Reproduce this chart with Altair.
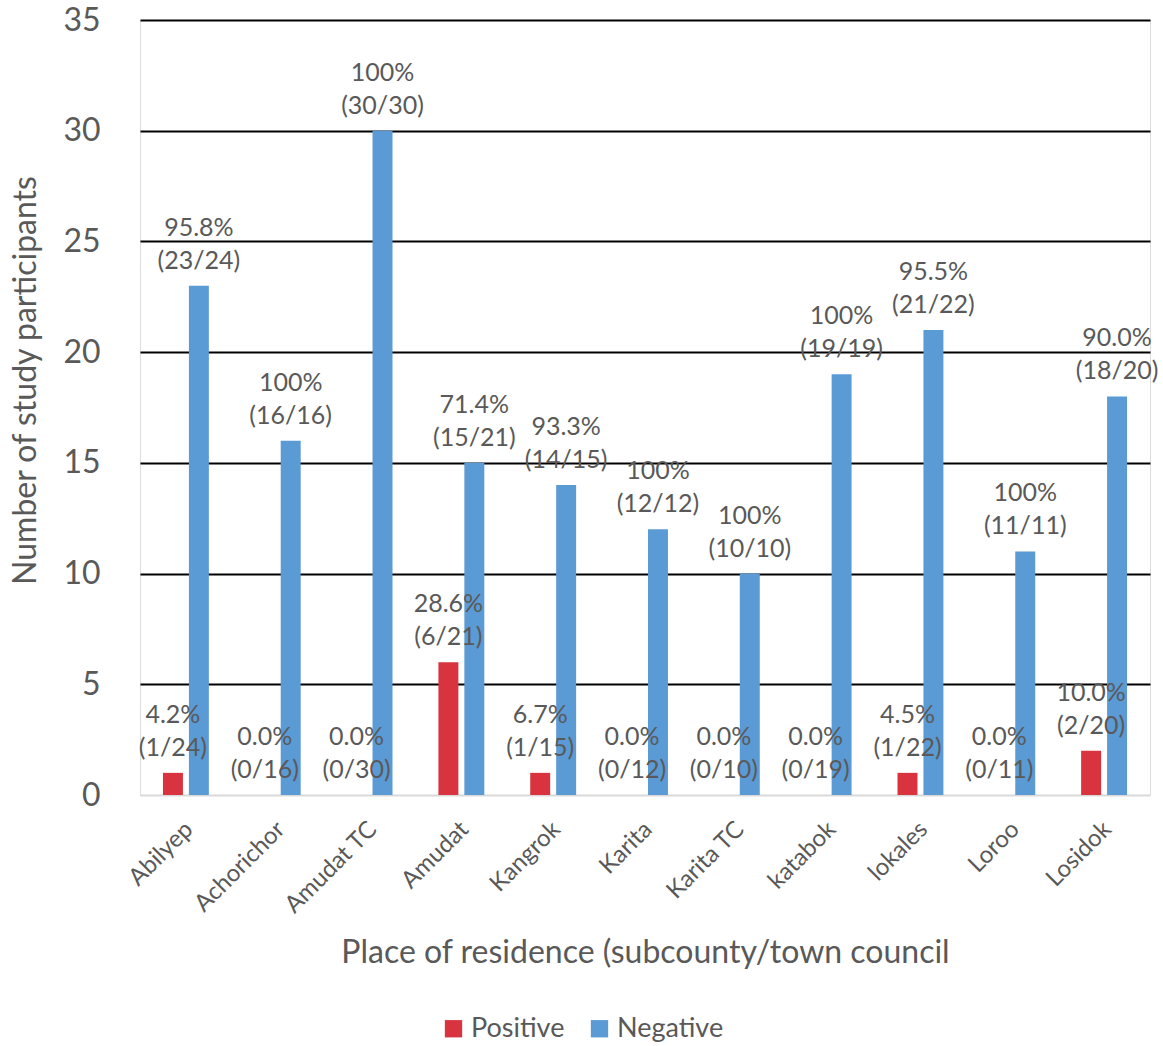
import altair as alt
import pandas as pd

# Participants by place of residence, split by test result
places = ["Abilyep", "Achorichor", "Amudat TC", "Amudat", "Kangrok", "Karita",
          "Karita TC", "katabok", "lokales", "Loroo", "Losidok"]
positive = [1, 0, 0, 6, 1, 0, 0, 0, 1, 0, 2]
negative = [23, 16, 30, 15, 14, 12, 10, 19, 21, 11, 18]
series = ["Positive", "Negative"]
colors = ["#d9333f", "#5b9bd5"]

FONT = "Lato"
GREY = "#595959"


def pct_label(n, total):
    pct = 100.0 * n / total
    head = "100%" if n == total else f"{pct:.1f}%"
    return f"{head}\n({n}/{total})"


rows = []
for place, p, n in zip(places, positive, negative):
    total = p + n
    rows.append({"place": place, "result": "Positive", "count": p, "label": pct_label(p, total)})
    rows.append({"place": place, "result": "Negative", "count": n, "label": pct_label(n, total)})
df = pd.DataFrame(rows)

x_enc = alt.X(
    "place:N",
    sort=places,
    scale=alt.Scale(paddingInner=0.5, paddingOuter=0.25),
    axis=alt.Axis(
        title="Place of residence (subcounty/town council",
        titleFont=FONT, titleFontSize=32, titleFontWeight="normal", titleColor=GREY,
        titleY=157, titleBaseline="middle",
        labelFont=FONT, labelFontSize=24, labelColor=GREY, labelAngle=-45,
        labelPadding=22, labelOffset=-5, ticks=False, domainColor="#d9d9d9", domainWidth=2,
        grid=False,
    ),
)
xoff_enc = alt.XOffset("result:N", sort=series,
                       scale=alt.Scale(domain=series, paddingInner=0.23, paddingOuter=0))
y_enc = alt.Y(
    "count:Q",
    scale=alt.Scale(domain=[0, 35], nice=False),
    axis=alt.Axis(
        values=[0, 5, 10, 15, 20, 25, 30, 35],
        title="Number of study participants",
        titleFont=FONT, titleFontSize=32, titleFontWeight="normal", titleColor=GREY,
        titleX=-115, titleY=360, titleAngle=-90, titleBaseline="middle", titleAlign="center",
        labelFont=FONT, labelFontSize=32, labelColor=GREY, labelPadding=40,
        ticks=False, domain=False,
        gridColor=alt.condition(alt.datum.value == 0, alt.value("transparent"), alt.value("#000000")),
        gridWidth=2,
    ),
)
color_enc = alt.Color(
    "result:N",
    sort=series,
    scale=alt.Scale(domain=series, range=colors),
    legend=alt.Legend(
        title=None, orient="none", legendX=300, legendY=995, direction="horizontal",
        symbolType="square", symbolSize=300, symbolStrokeWidth=0,
        labelFont=FONT, labelFontSize=27, labelColor=GREY, labelOffset=4, columnPadding=21,
    ),
)

bars = alt.Chart(df).mark_bar().encode(
    x=x_enc, xOffset=xoff_enc, y=y_enc, color=color_enc,
)

labels = alt.Chart(df).mark_text(
    font=FONT, fontSize=25, color=GREY, lineBreak="\n", lineHeight=33,
    baseline="bottom", dy=-45,
).encode(
    x=alt.X("place:N", sort=places), xOffset=alt.XOffset("result:N", sort=series),
    y="count:Q", text="label:N",
)

chart = (
    alt.layer(bars, labels)
    .properties(
        width=1010, height=775,
        autosize=alt.AutoSizeParams(type="none"),
        padding={"left": 140, "top": 20, "right": 13, "bottom": 251},
    )
    .configure_view(stroke=None)
    .configure(background="white")
)

chart.save("out.html", embed_options={"renderer": "svg", "actions": False})
